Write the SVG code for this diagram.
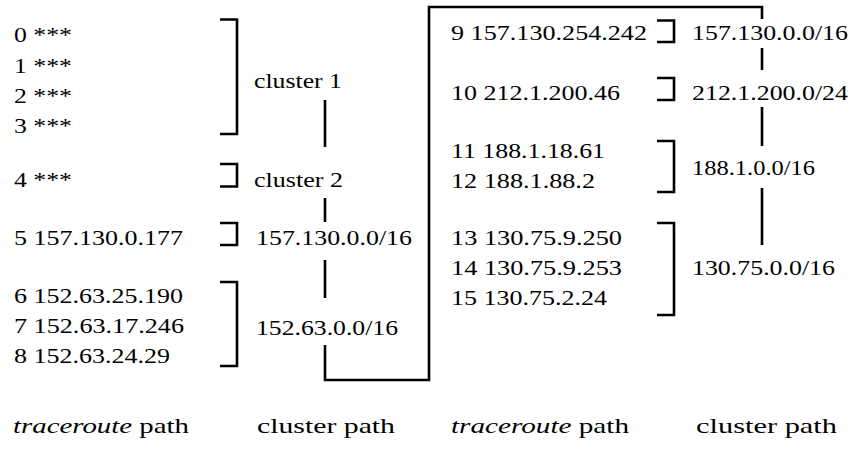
<svg xmlns="http://www.w3.org/2000/svg" width="852" height="449" viewBox="0 0 852 449">
<style>
text{font-family:"Liberation Serif","Times New Roman",serif;font-size:22px;fill:#000}
.it{font-style:italic}
.ln{fill:none;stroke:#000;stroke-width:2.6;stroke-linecap:butt;stroke-linejoin:miter}
</style>
<rect width="852" height="449" fill="#fff"/>
<g id="hops-left">
<text x="14" y="42" textLength="58" lengthAdjust="spacingAndGlyphs">0 ***</text>
<text x="14" y="72.5" textLength="58" lengthAdjust="spacingAndGlyphs">1 ***</text>
<text x="14" y="102.5" textLength="58" lengthAdjust="spacingAndGlyphs">2 ***</text>
<text x="14" y="133" textLength="58" lengthAdjust="spacingAndGlyphs">3 ***</text>
<text x="14" y="187" textLength="58" lengthAdjust="spacingAndGlyphs">4 ***</text>
<text x="14" y="245" textLength="169" lengthAdjust="spacingAndGlyphs">5 157.130.0.177</text>
<text x="14" y="303" textLength="169" lengthAdjust="spacingAndGlyphs">6 152.63.25.190</text>
<text x="14" y="333" textLength="170" lengthAdjust="spacingAndGlyphs">7 152.63.17.246</text>
<text x="14" y="363" textLength="156" lengthAdjust="spacingAndGlyphs">8 152.63.24.29</text>
</g>
<g id="clusters-left">
<text x="254" y="88" textLength="88" lengthAdjust="spacingAndGlyphs">cluster 1</text>
<text x="254" y="187" textLength="89" lengthAdjust="spacingAndGlyphs">cluster 2</text>
<text x="256" y="245" textLength="156" lengthAdjust="spacingAndGlyphs">157.130.0.0/16</text>
<text x="256" y="335" textLength="142" lengthAdjust="spacingAndGlyphs">152.63.0.0/16</text>
</g>
<g id="hops-right">
<text x="451" y="40" textLength="196" lengthAdjust="spacingAndGlyphs">9 157.130.254.242</text>
<text x="451" y="100" textLength="169" lengthAdjust="spacingAndGlyphs">10 212.1.200.46</text>
<text x="451" y="158" textLength="154" lengthAdjust="spacingAndGlyphs">11 188.1.18.61</text>
<text x="451" y="188" textLength="144" lengthAdjust="spacingAndGlyphs">12 188.1.88.2</text>
<text x="451" y="245" textLength="171" lengthAdjust="spacingAndGlyphs">13 130.75.9.250</text>
<text x="451" y="275" textLength="171" lengthAdjust="spacingAndGlyphs">14 130.75.9.253</text>
<text x="451" y="305" textLength="156" lengthAdjust="spacingAndGlyphs">15 130.75.2.24</text>
</g>
<g id="clusters-right">
<text x="692" y="40" textLength="156" lengthAdjust="spacingAndGlyphs">157.130.0.0/16</text>
<text x="692" y="100" textLength="156" lengthAdjust="spacingAndGlyphs">212.1.200.0/24</text>
<text x="692" y="175" textLength="123" lengthAdjust="spacingAndGlyphs">188.1.0.0/16</text>
<text x="692" y="275" textLength="143" lengthAdjust="spacingAndGlyphs">130.75.0.0/16</text>
</g>
<g id="captions">
<text x="13" y="433" textLength="176" lengthAdjust="spacingAndGlyphs"><tspan class="it">traceroute</tspan> path</text>
<text x="257" y="433" textLength="138" lengthAdjust="spacingAndGlyphs">cluster path</text>
<text x="451" y="433" textLength="178" lengthAdjust="spacingAndGlyphs"><tspan class="it">traceroute</tspan> path</text>
<text x="696" y="433" textLength="141" lengthAdjust="spacingAndGlyphs">cluster path</text>
</g>
<g id="brackets">
<path class="ln" d="M220,19.5 H237 V134 H220"/>
<path class="ln" d="M220,164 H237 V186.5 H220"/>
<path class="ln" d="M220,223 H237 V245 H220"/>
<path class="ln" d="M220,282 H237 V366 H220"/>
<path class="ln" d="M657,20.5 H674 V42 H657"/>
<path class="ln" d="M657,78 H674 V100 H657"/>
<path class="ln" d="M657,141 H674 V192 H657"/>
<path class="ln" d="M657,223 H674 V315 H657"/>
</g>
<g id="connectors">
<path class="ln" d="M325,100 V147"/>
<path class="ln" d="M325,198 V222"/>
<path class="ln" d="M325,260 V298"/>
<path class="ln" d="M325,345 V380 H429 V7 H762 V19"/>
<path class="ln" d="M762,48 V70"/>
<path class="ln" d="M762,107 V146"/>
<path class="ln" d="M762,188 V245"/>
</g>
</svg>
